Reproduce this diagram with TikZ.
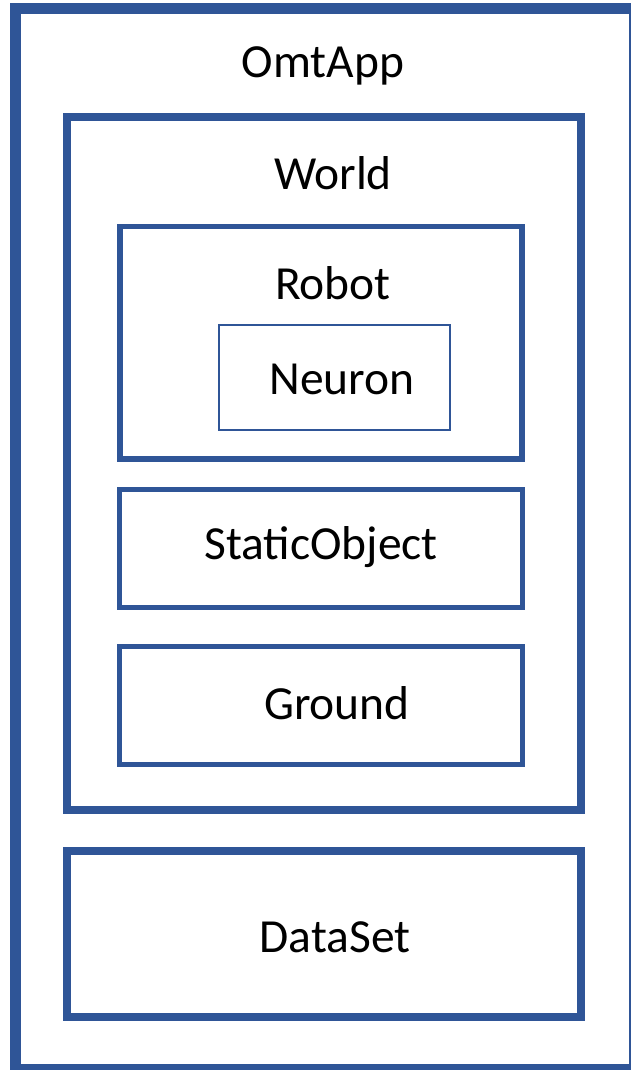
\documentclass[tikz,border=0pt]{standalone}
\usepackage{fontspec}
\setmainfont{Carlito}
\definecolor{boxblue}{RGB}{47,85,151}
\tikzset{
  frame/.style={draw=boxblue, line width=#1},
  lbl/.style={anchor=base, inner sep=0pt, font=\fontsize{47.5}{52}\selectfont, text=black}
}
\begin{document}
\begin{tikzpicture}[x=1pt,y=-1pt]
\useasboundingbox (0,0) rectangle (631,1070);
\clip (0,0) rectangle (631,1070);
% boxes
\draw[frame=11pt] (15,8.5) rectangle (634.5,1069.5);
\node[frame=8pt, inner sep=0pt, minimum width=514.5pt, minimum height=693pt] (world) at (323.75,463.5) {};
\node[frame=8pt, inner sep=0pt, minimum width=514.5pt, minimum height=166.5pt] (dataset) at (323.75,933.75) {};
\node[frame=5.3pt, inner sep=0pt, minimum width=402.2pt, minimum height=232.3pt] (robot) at (321,342.8) {};
\node[frame=5pt, inner sep=0pt, minimum width=402.2pt, minimum height=118pt] (static) at (321,548.5) {};
\node[frame=5pt, inner sep=0pt, minimum width=402.2pt, minimum height=118.5pt] (ground) at (321,705.25) {};
\node[frame=2pt, inner sep=0pt, minimum width=231pt, minimum height=104.5pt] (neuron) at (334,377.25) {};
% labels
\node[lbl] (lomt) at (323,78) {OmtApp};
\node[lbl] (lworld) at (333,189) {World};
\node[lbl] (lrobot) at (333,299) {Robot};
\node[lbl] (lneuron) at (342,394) {Neuron};
\node[lbl] (lstatic) at (321,559) {StaticObject};
\node[lbl] (lground) at (337,719) {Ground};
\node[lbl] (ldata) at (335,952) {DataSet};
\end{tikzpicture}
\end{document}
